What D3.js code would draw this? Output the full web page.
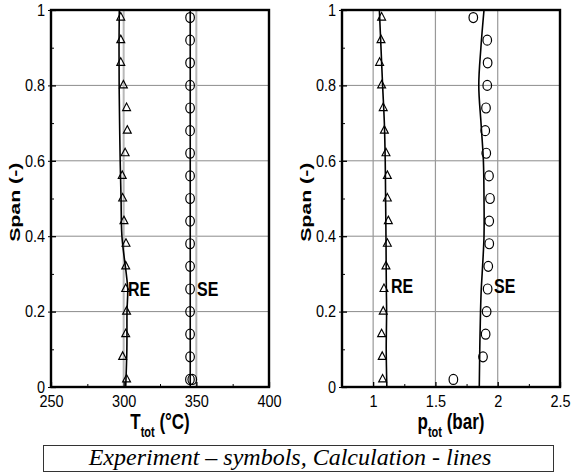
<!DOCTYPE html>
<html>
<head>
<meta charset="utf-8">
<script src="https://cdn.jsdelivr.net/npm/d3@7"></script>
<style>
body { margin: 0; background: #fff; }
svg { display: block; }
</style>
</head>
<body>
<div id="chart"></div>
<script>
// measured span positions (experiment) and the calculation stations
const spanExp = [0.02, 0.08, 0.14, 0.20, 0.26, 0.32, 0.38, 0.44, 0.50, 0.56, 0.62, 0.68, 0.74, 0.80, 0.86, 0.92, 0.98];
const spanSE = [0.02, 0.02, 0.08, 0.14, 0.20, 0.26, 0.32, 0.38, 0.44, 0.50, 0.56, 0.62, 0.68, 0.74, 0.80, 0.86, 0.92, 0.98];
const spanCalc = [0, 0.1, 0.2, 0.26, 0.3, 0.4, 0.5, 0.6, 0.7, 0.8, 0.9, 1.0];

// total temperature (degC)
const tREExp = [302, 299.3, 301.4, 302, 301.4, 301.4, 301.6, 300.2, 299.3, 299, 301, 302.5, 302, 299.8, 298, 298, 298];
const tSEExp = [345.6, 347.2, 345.7, 345.7, 345.7, 345.7, 345.7, 345.7, 345.7, 345.7, 345.7, 345.7, 345.7, 345.7, 345.7, 345.7, 345.7, 345.7];
const tRECalc = [301.4, 302.2, 302.3, 302.8, 301.8, 298.8, 298.2, 297.6, 297.2, 296.9, 296.8, 297.0];
const tSECalc = [345.8, 345.8, 345.8, 345.8, 345.8, 345.8, 345.8, 345.8, 345.8, 345.8, 345.8, 345.8];

// total pressure (bar)
const pREExp = [1.076, 1.073, 1.068, 1.081, 1.087, 1.103, 1.114, 1.122, 1.114, 1.114, 1.103, 1.09, 1.081, 1.068, 1.052, 1.063, 1.068];
const pSEExp = [1.644, 1.882, 1.903, 1.911, 1.919, 1.924, 1.932, 1.932, 1.938, 1.93, 1.908, 1.90, 1.906, 1.916, 1.919, 1.916, 1.804];
const pRECalc = [1.11, 1.105, 1.108, 1.106, 1.105, 1.103, 1.10, 1.097, 1.09, 1.076, 1.063, 1.05];
const pSECalc = [1.852, 1.856, 1.862, 1.868, 1.875, 1.89, 1.89, 1.885, 1.866, 1.848, 1.865, 1.89];

// ticks
const spanTicks = [0, 0.2, 0.4, 0.6, 0.8, 1];
const spanMinor = [0.1, 0.3, 0.5, 0.7, 0.9];
const tTicks = [250, 300, 350, 400];
const tMinor = [275, 325, 375];
const pTicks = [1, 1.5, 2, 2.5];
const pMinor = [1.25, 1.75, 2.25];

const captionText = "Experiment \u2013 symbols, Calculation - lines";

const width = 571;
const height = 475;
const sans = "'Liberation Sans', Arial, Helvetica, sans-serif";

let svg = d3.select("#chart")
    .append("svg")
    .attr("width", width)
    .attr("height", height);

const y = d3.scaleLinear().domain([0, 1]).range([387, 10]);

//Draws one of the two panels
function drawPanel(p) {
    const x = d3.scaleLinear().domain(p.domain).range([p.left, p.left + 218]);
    const g = svg.append("g");

    //gridlines
    g.selectAll(".hgrid")
        .data(spanTicks.slice(1, -1))
        .enter()
        .append("line")
        .attr("x1", x.range()[0]).attr("x2", x.range()[1])
        .attr("y1", d => y(d)).attr("y2", d => y(d))
        .attr("stroke", "#8c8c8c")
        .attr("stroke-width", 1);

    g.selectAll(".vgrid")
        .data(p.grid)
        .enter()
        .append("line")
        .attr("x1", d => x(d)).attr("x2", d => x(d))
        .attr("y1", y(0)).attr("y2", y(1))
        .attr("stroke", p.gridColor)
        .attr("stroke-width", p.gridWidth);

    //calculation lines
    const line = d3.line()
        .x(d => x(d[0]))
        .y(d => y(d[1]))
        .curve(d3.curveCatmullRom);

    p.lines.forEach(function (vals) {
        g.append("path")
            .datum(vals.map((v, i) => [v, spanCalc[i]]))
            .attr("d", line)
            .attr("fill", "none")
            .attr("stroke", "#000")
            .attr("stroke-width", 1.6);
    });

    //experiment triangles
    const tri = d3.symbol().type(d3.symbolTriangle).size(27);
    g.selectAll(".tri")
        .data(p.tri.map((v, i) => [v, spanExp[i]]))
        .enter()
        .append("path")
        .attr("d", tri)
        .attr("transform", d => `translate(${x(d[0])},${y(d[1])}) scale(1,1.1)`)
        .attr("fill", "none")
        .attr("stroke", "#000")
        .attr("stroke-width", 1.1);

    //experiment circles
    g.selectAll(".circ")
        .data(p.circ.map((v, i) => [v, p.circSpan[i]]))
        .enter()
        .append("ellipse")
        .attr("cx", d => x(d[0]))
        .attr("cy", d => y(d[1]))
        .attr("rx", 4.3)
        .attr("ry", 5)
        .attr("fill", "none")
        .attr("stroke", "#000")
        .attr("stroke-width", 1.2);

    //frame
    g.append("rect")
        .attr("x", x.range()[0]).attr("y", y(1))
        .attr("width", 218).attr("height", y(0) - y(1))
        .attr("fill", "none")
        .attr("stroke", "#000")
        .attr("stroke-width", 2.4);

    //axes
    const yAxis = g.append("g")
        .attr("transform", `translate(${p.left},0)`)
        .call(d3.axisLeft(y).tickValues(spanTicks).tickSize(-5).tickPadding(6)
            .tickFormat(d3.format("")));
    yAxis.select(".domain").remove();
    yAxis.selectAll("line").attr("stroke-width", 1.3);
    yAxis.selectAll("text")
        .attr("font-family", sans)
        .attr("font-size", 14.5)
        .attr("fill", "#000")
        .attr("transform", "scale(1,1.12)");

    const yOut = g.append("g")
        .attr("transform", `translate(${p.left},0)`)
        .call(d3.axisLeft(y).tickValues(spanTicks).tickSize(3).tickFormat(""));
    yOut.select(".domain").remove();

    const yMinor = g.append("g")
        .attr("transform", `translate(${p.left},0)`)
        .call(d3.axisLeft(y).tickValues(spanMinor).tickSize(-3).tickFormat(""));
    yMinor.select(".domain").remove();

    const xAxis = g.append("g")
        .attr("transform", `translate(0,${y(0)})`)
        .call(d3.axisBottom(x).tickValues(p.ticks).tickSize(-5).tickPadding(8)
            .tickFormat(d3.format("")));
    xAxis.select(".domain").remove();
    xAxis.selectAll("line").attr("stroke-width", 1.3);
    xAxis.selectAll("text")
        .attr("font-family", sans)
        .attr("font-size", 14.5)
        .attr("fill", "#000")
        .attr("transform", "scale(1,1.12)");

    const xMinor = g.append("g")
        .attr("transform", `translate(0,${y(0)})`)
        .call(d3.axisBottom(x).tickValues(p.minor).tickSize(-3).tickFormat(""));
    xMinor.select(".domain").remove();

    //axis titles
    g.append("text")
        .attr("transform", `translate(${p.left - 36},${y(0.49)}) rotate(-90) scale(1.42,1)`)
        .attr("text-anchor", "middle")
        .attr("dy", "0.35em")
        .attr("font-family", sans)
        .attr("font-weight", "bold")
        .attr("font-size", 15)
        .text("Span (-)");

    const title = g.append("text")
        .attr("transform", `translate(${p.left + 109},429) scale(1,1.3)`)
        .attr("text-anchor", "middle")
        .attr("font-family", sans)
        .attr("font-weight", "bold")
        .attr("font-size", 17);
    title.append("tspan").text(p.title[0]);
    title.append("tspan").attr("font-size", 11).attr("dy", 6).text(p.title[1]);
    title.append("tspan").attr("dy", -6).text(p.title[2]);

    //RE / SE labels
    g.selectAll(".lab")
        .data(p.labels)
        .enter()
        .append("text")
        .attr("transform", d => `translate(${x(d.x)},${y(d.y)}) scale(1,1.22)`)
        .attr("font-family", sans)
        .attr("font-weight", "bold")
        .attr("font-size", 16)
        .text(d => d.name);
}

drawPanel({
    left: 51,
    domain: [250, 400],
    ticks: tTicks,
    minor: tMinor,
    grid: [300, 350],
    gridColor: "#b8b8b8",
    gridWidth: 2,
    lines: [tRECalc, tSECalc],
    tri: tREExp,
    circ: tSEExp,
    circSpan: spanSE,
    title: ["T", "tot", " (\u00B0C)"],
    labels: [{ name: "RE", x: 303, y: 0.241 }, { name: "SE", x: 350.5, y: 0.241 }]
});

drawPanel({
    left: 342,
    domain: [0.75, 2.5],
    ticks: pTicks,
    minor: pMinor,
    grid: [1, 1.5, 2],
    gridColor: "#999",
    gridWidth: 1.2,
    lines: [pRECalc, pSECalc],
    tri: pREExp,
    circ: pSEExp,
    circSpan: spanExp,
    title: ["p", "tot", " (bar)"],
    labels: [{ name: "RE", x: 1.143, y: 0.249 }, { name: "SE", x: 1.97, y: 0.249 }]
});

//caption box
svg.append("rect")
    .attr("x", 43.5).attr("y", 445.5)
    .attr("width", 510).attr("height", 26)
    .attr("fill", "#fff")
    .attr("stroke", "#333")
    .attr("stroke-width", 1);

svg.append("text")
    .attr("x", 290)
    .attr("y", 465)
    .attr("text-anchor", "middle")
    .attr("font-family", "'Liberation Serif', 'Times New Roman', serif")
    .attr("font-style", "italic")
    .attr("font-size", 24)
    .text(captionText);
</script>
</body>
</html>
